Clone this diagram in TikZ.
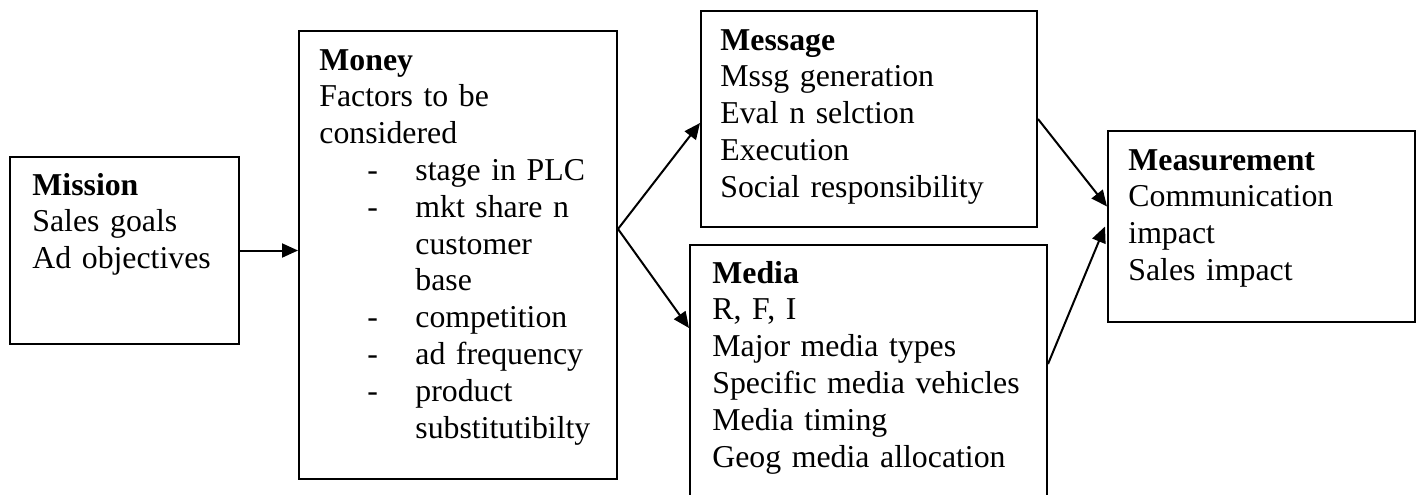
\documentclass[tikz,border=0pt]{standalone}
\usepackage{fontspec}
\setmainfont{Liberation Serif}
\usetikzlibrary{arrows.meta,positioning}

\newcommand{\mitem}[1]{\hspace*{24pt}\makebox[24pt][l]{-}#1}
\newcommand{\mcont}[1]{\hspace*{48pt}#1}

\begin{document}
\begin{tikzpicture} [
    x=0.5pt, y=-0.5pt,
    box/.style={rectangle, draw=black, line width=1pt, anchor=north west, inner sep=0pt},
    txt/.style={anchor=base west, inner sep=0pt, text width=170pt, align=left,
        font=\fontsize{15.9}{18.4}\selectfont},
    >={Triangle[length=8pt,width=7pt]}
    ]
    \useasboundingbox (0,0) rectangle (1417,494);

    %Boxes
    \node[box, minimum width=114.5pt, minimum height=93.5pt] (mission) at (9,156) {};
    \node[box, minimum width=159pt, minimum height=224pt]    (money)   at (298,30) {};
    \node[box, minimum width=168pt, minimum height=108pt]    (message) at (700,10) {};
    \node[box, minimum width=178.5pt, minimum height=127pt]  (media)   at (689,244) {};
    \node[box, minimum width=153.5pt, minimum height=95.5pt] (measure) at (1107,130) {};

    %Texts
    \node[txt] (missiontxt) at (32,195) {\textbf{Mission}\\Sales goals\\Ad objectives};
    \node[txt] (moneytxt)   at (319,70) {\textbf{Money}\\Factors to be\\considered\\
        \mitem{stage in PLC}\\\mitem{mkt share n}\\\mcont{customer}\\\mcont{base}\\
        \mitem{competition}\\\mitem{ad frequency}\\\mitem{product}\\\mcont{substitutibilty}};
    \node[txt] (messagetxt) at (720,50) {\textbf{Message}\\Mssg generation\\Eval n selction\\Execution\\Social responsibility};
    \node[txt] (mediatxt)   at (712,283) {\textbf{Media}\\R, F, I\\Major media types\\Specific media vehicles\\Media timing\\Geog media allocation};
    \node[txt] (measuretxt) at (1128,170) {\textbf{Measurement}\\Communication\\impact\\Sales impact};

    %Lines
    \draw[->, line width=1pt] (mission.east) -- (mission.east -| money.west);
    \draw[->, line width=1pt] ([yshift=13pt]money.east) -- ([yshift=-2pt]message.west);
    \draw[->, line width=1pt] ([yshift=13pt]money.east) -- ([yshift=22pt]media.west);
    \draw[->, line width=1pt] (message.east) -- ([yshift=10pt]measure.west);
    \draw[->, line width=1pt] ([yshift=4pt]media.east) -- ([xshift=-1pt]measure.west);
\end{tikzpicture}
\end{document}
